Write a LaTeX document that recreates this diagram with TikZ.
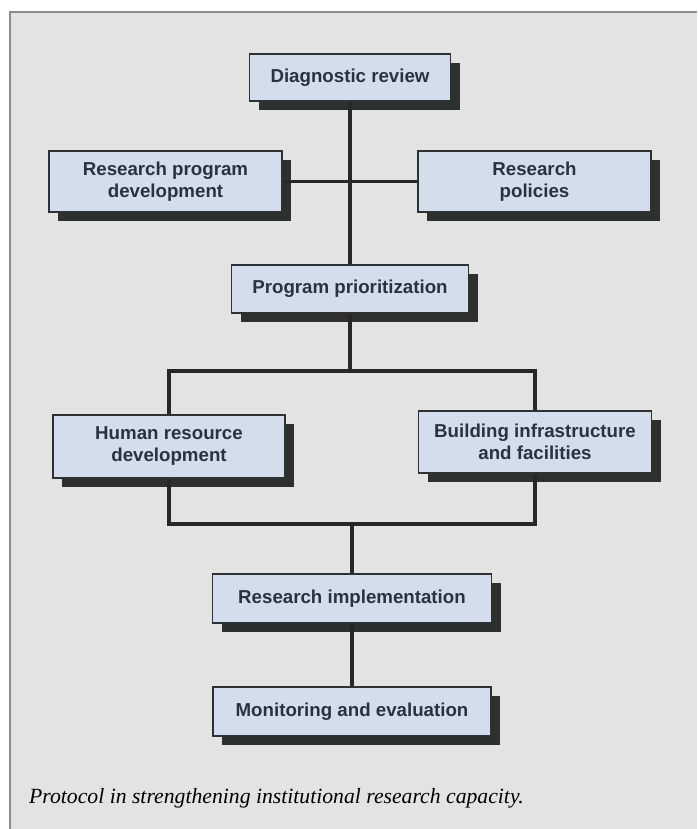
\documentclass[tikz,border=0pt]{standalone}
\usepackage{fontspec}
\setmainfont{Liberation Serif}
\newfontfamily\boxfont{Liberation Sans}
\usetikzlibrary{shadows}
\definecolor{bgc}{HTML}{E3E3E1}
\definecolor{framec}{HTML}{8C8C8C}
\definecolor{boxfill}{HTML}{D3DDEB}
\definecolor{boxline}{HTML}{2E3236}
\definecolor{shadowc}{HTML}{2C312D}
\definecolor{txtc}{HTML}{27343F}
\definecolor{linec}{HTML}{262826}
\tikzset{
  stepbox/.style={draw=boxline, line width=1.4pt, fill=boxfill, inner sep=0pt,
    align=center, text=txtc,
    font=\boxfont\bfseries\fontsize{18.7}{22}\selectfont,
    drop shadow={shadow xshift=9pt, shadow yshift=-9pt, fill=shadowc, opacity=1}},
  conn/.style={draw=linec, line width=3.4pt}
}
\begin{document}
\begin{tikzpicture}[x=1pt,y=1pt]
\useasboundingbox (0,0) rectangle (697,829);
\fill[white] (0,0) rectangle (697,829);
\fill[bgc] (10,0) rectangle (697,817);
\draw[framec, line width=1.5pt] (10,0) -- (10,817) -- (697,817);

\coordinate (b1l) at (169,458);
\coordinate (b1r) at (535,458);
\coordinate (b2l) at (169,305);
\coordinate (b2r) at (535,305);
\coordinate (s1) at (350,458);
\coordinate (s2) at (352,305);

\node[stepbox, minimum width=201pt, minimum height=47pt] (DR) at (350,751.5) {Diagnostic review};
\node[stepbox, minimum width=233pt, minimum height=61pt] (RPD) at (165.5,647.5) {Research program\\development};
\node[stepbox, minimum width=233pt, minimum height=61pt] (RP) at (534.5,647.5) {Research\\policies};
\node[stepbox, minimum width=237pt, minimum height=48pt] (PP) at (350,540) {Program prioritization};
\node[stepbox, minimum width=232pt, minimum height=63pt] (HRD) at (169,382.5) {Human resource\\development};
\node[stepbox, minimum width=233pt, minimum height=62pt] (BIF) at (535,387) {Building infrastructure\\and facilities};
\node[stepbox, minimum width=279pt, minimum height=49pt] (RI) at (352,230.5) {Research implementation};
\node[stepbox, minimum width=278pt, minimum height=49pt] (ME) at (352,117.5) {Monitoring and evaluation};

\draw[conn] (DR.south) -- (PP.north);
\draw[conn] (RPD.east) -- (RP.west);
\draw[conn] (PP.south) -- (s1);
\draw[conn, line cap=rect] (b1l) -- (b1r);
\draw[conn] (b1l) -- (HRD.north);
\draw[conn] (b1r) -- (BIF.north);
\draw[conn] (HRD.south) -- (b2l);
\draw[conn] (BIF.south) -- (b2r);
\draw[conn, line cap=rect] (b2l) -- (b2r);
\draw[conn] (s2) -- (RI.north);
\draw[conn] (RI.south) -- (ME.north);

\node[anchor=base west, inner sep=0pt, font=\itshape\fontsize{21.7}{24}\selectfont, text=black] (cap) at (29,25) {Protocol in strengthening institutional research capacity.};
\end{tikzpicture}
\end{document}
